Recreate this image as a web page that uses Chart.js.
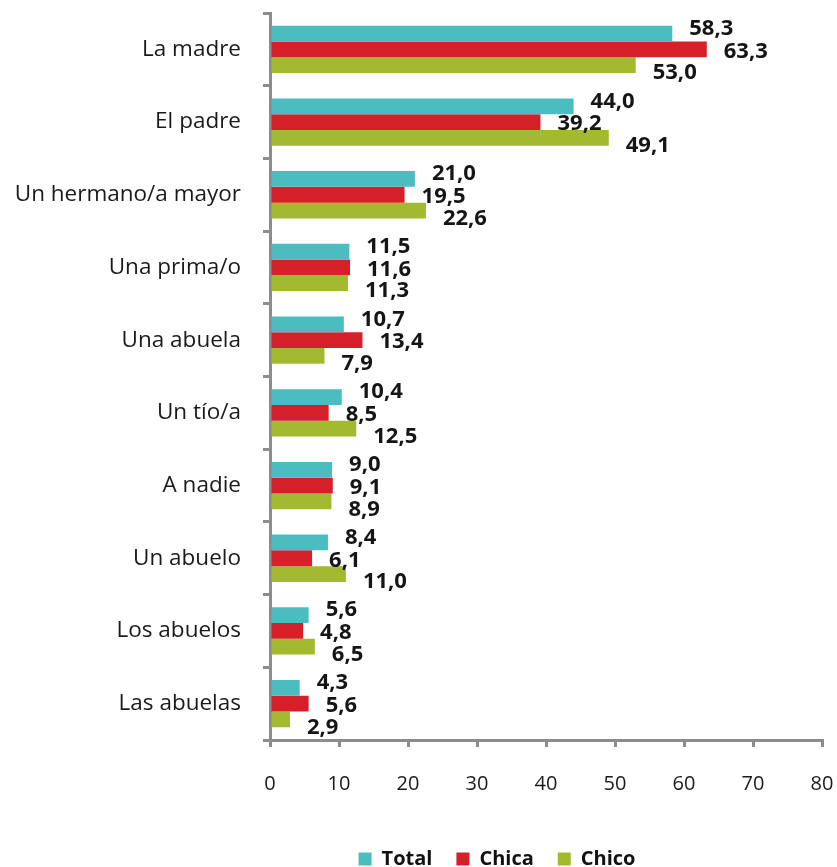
<!DOCTYPE html>
<html>
<head>
<meta charset="utf-8">
<script src="https://cdn.jsdelivr.net/npm/chart.js@4.4.1/dist/chart.umd.min.js"></script>
<style>
  body { margin: 0; background: #fff; }
</style>
</head>
<body>
<canvas id="bar-chart" width="837" height="867"></canvas>
<script>
const categories = ["La madre", "El padre", "Un hermano/a mayor", "Una prima/o", "Una abuela",
  "Un tío/a", "A nadie", "Un abuelo", "Los abuelos", "Las abuelas"];
const seriesNames = ["Total", "Chica", "Chico"];
const totalVals = [58.3, 44.0, 21.0, 11.5, 10.7, 10.4, 9.0, 8.4, 5.6, 4.3];
const chicaVals = [63.3, 39.2, 19.5, 11.6, 13.4, 8.5, 9.1, 6.1, 4.8, 5.6];
const chicoVals = [53.0, 49.1, 22.6, 11.3, 7.9, 12.5, 8.9, 11.0, 6.5, 2.9];
const xMin = 0, xMax = 80, xStep = 10;

const colors = ["#4bbdc0", "#d5202a", "#a3b92f"];
const axisGray = "#8c8c8c";
// labels sit a bit spread out vertically, like the excel original
const labelShift = [-5, 2, 8];

const barLabels = {
  id: "barLabels",
  afterDatasetsDraw(chart) {
    const ctx = chart.ctx;
    ctx.save();
    ctx.font = "bold 22px 'Open Sans'";
    ctx.fillStyle = "#151515";
    ctx.textBaseline = "middle";
    ctx.textAlign = "left";
    chart.data.datasets.forEach((ds, i) => {
      chart.getDatasetMeta(i).data.forEach((bar, j) => {
        const txt = ds.data[j].toFixed(1).replace(".", ",");
        ctx.fillText(txt, bar.x + 17, bar.y + labelShift[i]);
      });
    });
    ctx.restore();
  }
};

// legend box: shorter than chart.js wants and shifted a bit right (like the original)
const legendTweak = {
  id: "legendTweak",
  afterInit(chart) {
    const lg = chart.legend;
    const fit = lg.fit.bind(lg);
    lg.fit = function () {
      fit();
      this.height = 42;
    };
  },
  afterLayout(chart) {
    chart.legend.left = 172;
  }
};

let config = {
  type: "bar",
  data: {
    labels: categories,
    datasets: [
      { label: seriesNames[0], data: totalVals, backgroundColor: colors[0] },
      { label: seriesNames[1], data: chicaVals, backgroundColor: colors[1] },
      { label: seriesNames[2], data: chicoVals, backgroundColor: colors[2] },
    ],
  },
  options: {
    indexAxis: "y",
    responsive: false,
    animation: false,
    layout: { padding: { top: 13, right: 15, left: 0, bottom: 0 } },
    datasets: { bar: { categoryPercentage: 0.65, barPercentage: 1.0 } },
    scales: {
      x: {
        min: xMin,
        max: xMax,
        ticks: { stepSize: xStep, color: "#1a1a1a", padding: 25, font: { family: "'Open Sans'", size: 20 } },
        grid: { drawOnChartArea: false, tickLength: 7, color: axisGray, lineWidth: 3 },
        border: { color: axisGray, width: 3 },
        afterFit(scale) {
          scale.height = 85;
          scale.paddingLeft = 0;
          scale.paddingRight = 0;
        },
      },
      y: {
        ticks: { color: "#1a1a1a", padding: 22, font: { family: "'Open Sans'", size: 22.5 } },
        grid: { drawOnChartArea: false, tickLength: 7, color: axisGray, lineWidth: 3 },
        border: { color: axisGray, width: 3 },
        afterFit(scale) {
          scale.width = 270;
          scale.paddingTop = 0;
          scale.paddingBottom = 0;
        },
      },
    },
    plugins: {
      legend: {
        position: "bottom",
        labels: {
          boxWidth: 13,
          boxHeight: 13,
          padding: 24,
          color: "#111",
          font: { family: "'Open Sans'", size: 20, weight: "bold" },
        },
      },
      tooltip: { enabled: false },
    },
  },
  plugins: [barLabels, legendTweak],
};
let ctx = document.getElementById("bar-chart").getContext("2d");
window.myBar = new Chart(ctx, config);
</script>
</body>
</html>
